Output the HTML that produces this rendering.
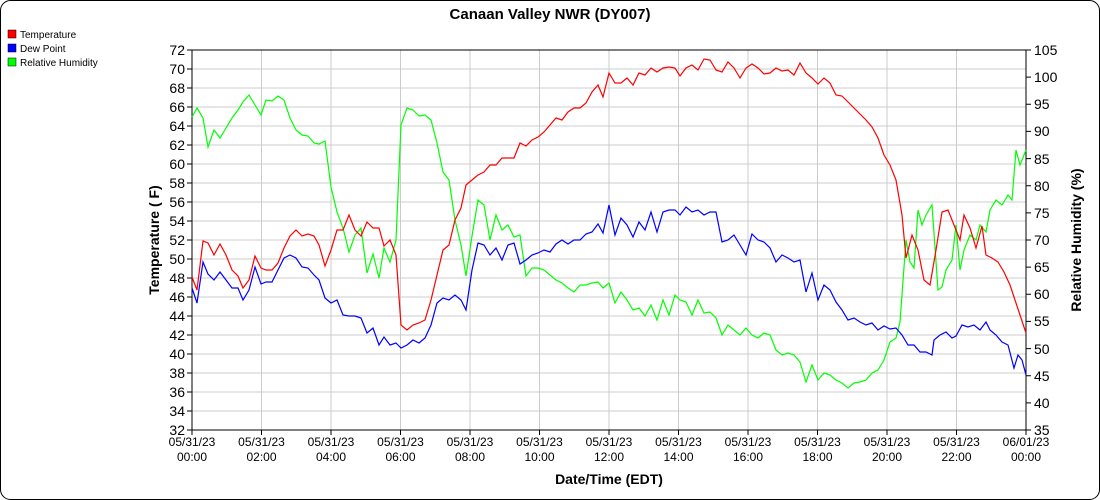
<!DOCTYPE html>
<html><head><meta charset="utf-8"><style>body{margin:0;background:#fff}svg{display:block}text{font-family:"Liberation Sans",sans-serif}</style></head><body>
<svg width="1100" height="500" xmlns="http://www.w3.org/2000/svg">
<rect x="0.5" y="0.5" width="1099" height="499" rx="10" fill="#fff" stroke="#000"/>
<text x="550" y="19" text-anchor="middle" font-size="15" font-weight="bold">Canaan Valley NWR (DY007)</text>
<g font-size="10">
<rect x="8" y="30" width="8" height="8" fill="#f00" stroke="#000" stroke-width="0.5"/><text x="20" y="38">Temperature</text>
<rect x="8" y="44" width="8" height="8" fill="#00f" stroke="#000" stroke-width="0.5"/><text x="20" y="52">Dew Point</text>
<rect x="8" y="58" width="8" height="8" fill="#0f0" stroke="#000" stroke-width="0.5"/><text x="20" y="66">Relative Humidity</text>
</g>
<g stroke="#ccc" stroke-width="1">
<path d="M192 69H1026M192 88H1026M192 107H1026M192 126H1026M192 145H1026M192 164H1026M192 183H1026M192 202H1026M192 221H1026M192 240H1026M192 259H1026M192 278H1026M192 297H1026M192 316H1026M192 335H1026M192 354H1026M192 373H1026M192 392H1026M192 411H1026"/>
<path d="M261.5 50V430M331 50V430M400.5 50V430M470 50V430M539.5 50V430M609 50V430M678.5 50V430M748 50V430M817.5 50V430M887 50V430M956.5 50V430"/>
</g>
<g stroke="#000" fill="none">
<path d="M192 50H1026M192 50V430H1026V50"/>
<path d="M187 50H192M187 69H192M187 88H192M187 107H192M187 126H192M187 145H192M187 164H192M187 183H192M187 202H192M187 221H192M187 240H192M187 259H192M187 278H192M187 297H192M187 316H192M187 335H192M187 354H192M187 373H192M187 392H192M187 411H192M187 430H192"/>
<path d="M1026 50H1031M1026 77.1H1031M1026 104.3H1031M1026 131.4H1031M1026 158.6H1031M1026 185.7H1031M1026 212.9H1031M1026 240H1031M1026 267.1H1031M1026 294.3H1031M1026 321.4H1031M1026 348.6H1031M1026 375.7H1031M1026 402.9H1031M1026 430H1031"/>
<path d="M192 430V435M261.5 430V435M331 430V435M400.5 430V435M470 430V435M539.5 430V435M609 430V435M678.5 430V435M748 430V435M817.5 430V435M887 430V435M956.5 430V435M1026 430V435"/>
</g>
<g font-size="14" text-anchor="end">
<text x="185" y="55">72</text><text x="185" y="74">70</text><text x="185" y="93">68</text><text x="185" y="112">66</text><text x="185" y="131">64</text><text x="185" y="150">62</text><text x="185" y="169">60</text><text x="185" y="188">58</text><text x="185" y="207">56</text><text x="185" y="226">54</text><text x="185" y="245">52</text><text x="185" y="264">50</text><text x="185" y="283">48</text><text x="185" y="302">46</text><text x="185" y="321">44</text><text x="185" y="340">42</text><text x="185" y="359">40</text><text x="185" y="378">38</text><text x="185" y="397">36</text><text x="185" y="416">34</text><text x="185" y="435">32</text>
</g>
<g font-size="14">
<text x="1034" y="55">105</text><text x="1034" y="82">100</text><text x="1034" y="109">95</text><text x="1034" y="136">90</text><text x="1034" y="164">85</text><text x="1034" y="191">80</text><text x="1034" y="218">75</text><text x="1034" y="245">70</text><text x="1034" y="272">65</text><text x="1034" y="299">60</text><text x="1034" y="326">55</text><text x="1034" y="354">50</text><text x="1034" y="381">45</text><text x="1034" y="408">40</text><text x="1034" y="435">35</text>
</g>
<g font-size="12" text-anchor="middle">
<text x="192" y="446">05/31/23</text><text x="192" y="461">00:00</text>
<text x="261.5" y="446">05/31/23</text><text x="261.5" y="461">02:00</text>
<text x="331" y="446">05/31/23</text><text x="331" y="461">04:00</text>
<text x="400.5" y="446">05/31/23</text><text x="400.5" y="461">06:00</text>
<text x="470" y="446">05/31/23</text><text x="470" y="461">08:00</text>
<text x="539.5" y="446">05/31/23</text><text x="539.5" y="461">10:00</text>
<text x="609" y="446">05/31/23</text><text x="609" y="461">12:00</text>
<text x="678.5" y="446">05/31/23</text><text x="678.5" y="461">14:00</text>
<text x="748" y="446">05/31/23</text><text x="748" y="461">16:00</text>
<text x="817.5" y="446">05/31/23</text><text x="817.5" y="461">18:00</text>
<text x="887" y="446">05/31/23</text><text x="887" y="461">20:00</text>
<text x="956.5" y="446">05/31/23</text><text x="956.5" y="461">22:00</text>
<text x="1026" y="446">06/01/23</text><text x="1026" y="461">00:00</text>
</g>
<text x="609" y="484" text-anchor="middle" font-size="14" font-weight="bold">Date/Time (EDT)</text>
<text transform="translate(159,240) rotate(-90)" text-anchor="middle" font-size="14" font-weight="bold">Temperature ( F)</text>
<text transform="translate(1081,240) rotate(-90)" text-anchor="middle" font-size="14" font-weight="bold">Relative Humidity (%)</text>
<g fill="none" stroke-width="1.2">
<polyline stroke="#0f0" points="192,117 197,108 203,118 208,147 214,130 220,138 226,128 232,118 238,110 243,102 249,95 255,105 261,115 266,100 272,101 278,96 284,100 290,118 296,130 302,135 308,136 314,143 319,144 325,141 331,187 337,212 343,228 349,252 355,235 361,228 367,273 373,254 379,278 384,248 390,262 396,240 401,125 407,108 413,110 419,116 425,115 431,120 437,143 443,172 449,180 455,220 461,245 466,276 472,236 478,200 484,205 490,240 496,215 502,230 508,225 514,237 520,235 526,276 532,268 538,268 544,270 550,275 556,280 562,283 568,288 574,292 580,285 586,285 592,283 598,282 603,288 609,283 615,303 621,292 627,300 633,310 639,308 645,316 651,305 657,320 663,300 669,315 675,295 680,300 686,302 692,315 698,300 704,313 710,312 716,318 722,335 728,325 734,330 740,335 746,328 752,335 758,338 764,333 770,335 776,350 782,355 788,353 794,355 800,362 806,382 812,365 818,380 824,373 830,375 836,380 842,383 848,388 854,383 860,382 866,380 872,373 878,370 884,360 890,342 896,338 900,322 906,240 910,262 914,268 918,210 922,225 926,215 932,205 938,290 942,287 946,270 952,260 956,225 960,270 964,250 970,235 976,240 980,225 986,232 990,210 996,200 1002,205 1008,195 1012,200 1016,150 1020,165 1026,150"/>
<polyline stroke="#00f" points="192,288 197,303 203,262 208,274 214,280 220,272 226,280 232,288 238,288 243,300 249,290 255,267 261,284 266,282 272,282 278,270 284,258 290,255 296,258 302,267 308,268 314,275 319,280 325,298 331,303 337,300 343,315 349,316 355,316 361,318 367,333 373,328 379,345 384,337 390,345 396,343 401,348 407,345 413,340 419,343 425,338 431,325 437,303 443,298 449,300 455,295 461,300 466,310 472,270 478,243 484,245 490,255 496,248 502,260 508,245 514,243 520,264 526,260 532,255 538,253 544,250 550,252 556,244 562,240 568,244 574,240 580,240 586,234 592,232 598,224 603,233 609,205 615,235 621,218 627,225 633,237 639,222 645,230 651,212 657,232 663,212 669,210 675,210 680,215 686,207 692,212 698,210 704,215 710,212 716,212 722,242 728,240 734,235 740,245 746,255 752,234 758,240 764,242 770,248 776,262 782,255 788,258 794,262 800,260 806,292 812,273 818,300 824,285 830,290 836,302 842,310 848,320 854,318 860,322 866,325 872,323 878,330 884,326 890,329 896,328 902,335 908,345 914,345 920,352 926,352 932,355 934,340 940,335 946,332 952,338 956,336 962,325 968,327 974,325 980,330 986,322 990,330 996,335 1002,342 1008,345 1014,368 1018,355 1022,360 1026,375"/>
<polyline stroke="#f00" points="192,277 197,290 203,241 208,243 214,255 220,244 226,255 232,270 238,276 243,288 249,280 255,256 261,268 266,270 272,270 278,263 284,248 290,236 296,230 302,236 308,234 314,236 319,245 325,266 331,250 337,230 343,230 349,215 355,230 361,236 367,222 373,228 379,228 384,246 390,240 396,255 401,325 407,330 413,325 419,323 425,320 431,300 437,275 443,250 449,245 455,220 461,208 466,185 472,180 478,175 484,172 490,165 496,165 502,158 508,158 514,158 520,143 526,146 532,140 538,137 544,132 550,125 556,118 562,120 568,112 574,108 580,108 586,103 592,92 598,85 603,97 609,73 615,83 621,83 627,78 633,85 639,73 645,75 651,68 657,72 663,68 669,67 675,68 680,76 686,68 692,65 698,70 704,59 710,60 716,70 722,72 728,62 734,68 740,78 746,68 752,64 758,68 764,74 770,73 776,68 782,71 788,70 794,75 800,63 806,73 812,78 818,84 824,78 830,83 836,95 842,96 848,102 854,108 860,114 866,120 872,127 878,138 884,155 890,165 896,180 902,215 906,258 912,235 918,250 924,280 930,285 936,250 942,212 948,210 954,225 960,240 964,215 970,228 976,248 982,226 986,255 992,258 998,262 1004,272 1010,285 1014,297 1020,315 1026,333"/>
</g>
</svg>
</body></html>
